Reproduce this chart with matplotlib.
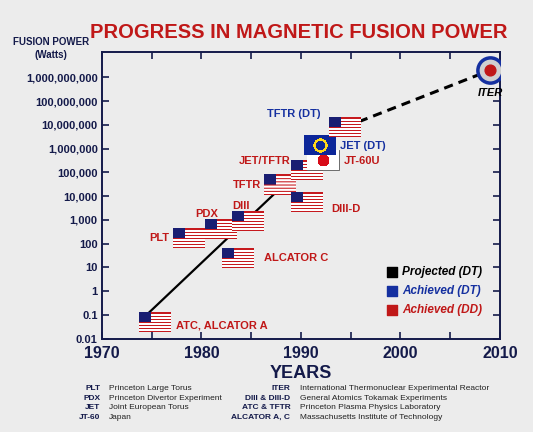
import matplotlib
matplotlib.use("Agg")
import matplotlib.pyplot as plt
import numpy as np
from matplotlib.offsetbox import OffsetImage, AnnotationBbox

plt.rcParams["font.family"] = ["Liberation Sans", "DejaVu Sans"]

# %% Data
dd_names = ["ATC, ALCATOR A", "PLT", "PDX", "DIII", "ALCATOR C", "TFTR", "JET/TFTR", "DIII-D", "JT-60U"]
dd_years = [1975.3, 1978.8, 1982.0, 1984.7, 1983.7, 1987.9, 1990.6, 1990.6, 1992.2]
dd_power = [0.05, 180, 400, 900, 26, 3e4, 1.3e5, 5500, 3.5e5]
dd_flags = ["us", "us", "us", "us", "us", "us", "us", "us", "jp"]

dt_names = ["JET (DT)", "TFTR (DT)"]
dt_years = [1991.9, 1994.4]
dt_power = [1.4e6, 8e6]
dt_flags = ["eu", "us"]

iter_year, iter_power = 2009.0, 2e9
trend_years = [1974.5, 1994.4]
trend_power = [0.1, 8e6]

x_ticks = [1970, 1980, 1990, 2000, 2010]
y_ticks = [0.01, 0.1, 1, 10, 100, 1e3, 1e4, 1e5, 1e6, 1e7, 1e8, 1e9]
y_labels = ["0.01", "0.1", "1", "10", "100", "1,000", "10,000", "100,000",
            "1,000,000", "10,000,000", "100,000,000", "1,000,000,000"]

legend_items = [("Projected (DT)", "black"), ("Achieved (DT)", "#1530a0"), ("Achieved (DD)", "#c01818")]
glossary_left = [("PLT", "Princeton Large Torus"), ("PDX", "Princeton Divertor Experiment"),
                 ("JET", "Joint European Torus"), ("JT-60", "Japan")]
glossary_right = [("ITER", "International Thermonuclear Experimental Reactor"),
                  ("DIII & DIII-D", "General Atomics Tokamak Experiments"),
                  ("ATC & TFTR", "Princeton Plasma Physics Laboratory"),
                  ("ALCATOR A, C", "Massachusetts Institute of Technology")]

RED = "#c01818"
BLUE = "#1530a0"
NAVY = "#141a4a"
BG = "#ececec"


def flag_image(kind, h=20, w=32):
    img = np.ones((h, w, 3))
    if kind == "us":
        for r in range(h):
            if (r * 13 // h) % 2 == 0:
                img[r, :] = (0.78, 0.1, 0.12)
        img[: h * 7 // 13, : w * 2 // 5] = (0.1, 0.12, 0.45)
    elif kind == "eu":
        img[:] = (0.05, 0.15, 0.6)
        yy, xx = np.mgrid[0:h, 0:w]
        ring = np.abs(np.hypot(yy - h / 2, xx - w / 2) - h * 0.3) < 1.2
        img[ring] = (1.0, 0.85, 0.1)
    elif kind == "jp":
        yy, xx = np.mgrid[0:h, 0:w]
        img[np.hypot(yy - h / 2, xx - w / 2) < h * 0.3] = (0.85, 0.05, 0.1)
    return img


def add_flag(ax, x, y, kind):
    ab = AnnotationBbox(OffsetImage(flag_image(kind), zoom=0.72), (x, y),
                        frameon=kind == "jp", pad=0.0, zorder=5,
                        bboxprops=dict(edgecolor="#555555", lw=0.6))
    ax.add_artist(ab)


fig = plt.figure(figsize=(5.33, 4.32), dpi=100, facecolor=BG)
ax = fig.add_axes([0.191, 0.215, 0.747, 0.665], facecolor=BG)

ax.plot(trend_years, trend_power, color="black", lw=1.6, zorder=2)
ax.plot([dt_years[1], iter_year], [dt_power[1], iter_power], color="black", lw=2.2,
        ls=(0, (3, 2)), zorder=2)

for name, x, y, kind in zip(dd_names, dd_years, dd_power, dd_flags):
    add_flag(ax, x, y, kind)
for name, x, y, kind in zip(dt_names, dt_years, dt_power, dt_flags):
    add_flag(ax, x, y, kind)

# ITER emblem
ax.scatter([iter_year], [iter_power], s=330, color="#d0d0d0", edgecolor="#1530a0", lw=2.5, zorder=5)
ax.scatter([iter_year], [iter_power], s=60, color=RED, zorder=6)

lab = dict(fontsize=8, fontweight="bold", zorder=7)
ax.text(1977.5, 0.035, "ATC, ALCATOR A", color=RED, va="center", **lab)
ax.text(1976.8, 180, "PLT", color=RED, ha="right", va="center", **lab)
ax.text(1980.5, 1800, "PDX", color=RED, ha="center", va="center", **lab)
ax.text(1984.0, 4000, "DIII", color=RED, ha="center", va="center", **lab)
ax.text(1986.3, 26, "ALCATOR C", color=RED, va="center", **lab)
ax.text(1986.0, 3e4, "TFTR", color=RED, ha="right", va="center", **lab)
ax.text(1989.0, 3e5, "JET/TFTR", color=RED, ha="right", va="center", **lab)
ax.text(1993.1, 3000, "DIII-D", color=RED, va="center", **lab)
ax.text(1994.3, 3e5, "JT-60U", color=RED, va="center", **lab)
ax.text(1993.9, 1.3e6, "JET (DT)", color=BLUE, va="center", **lab)
ax.text(1992.0, 2.8e7, "TFTR (DT)", color=BLUE, ha="right", va="center", **lab)
ax.text(iter_year, 2.3e8, "ITER", color="black", ha="center", va="center",
        fontstyle="italic", **lab)

ax.set_yscale("log")
ax.set_xlim(1970, 2010)
ax.set_ylim(0.0095, 1.2e10)
ax.set_xticks(x_ticks, [str(t) for t in x_ticks])
ax.set_xticks(np.arange(1975, 2010, 5), minor=True)
ax.set_yticks(y_ticks, y_labels)
ax.yaxis.set_minor_locator(matplotlib.ticker.NullLocator())
ax.tick_params(axis="both", which="both", direction="in", top=True, right=True,
               length=5, width=1.2, color=NAVY)
ax.tick_params(axis="x", labelsize=11.5, pad=5)
ax.tick_params(axis="y", labelsize=8, pad=3)
for t in ax.get_xticklabels() + ax.get_yticklabels():
    t.set_fontweight("bold")
    t.set_color(NAVY)
for s in ax.spines.values():
    s.set_color(NAVY)
    s.set_linewidth(1.4)

# legend
for i, (txt, col) in enumerate(legend_items):
    yy = 0.235 - i * 0.067
    ax.scatter([0.73], [yy], marker="s", s=50, color=col, transform=ax.transAxes, zorder=8)
    ax.text(0.755, yy, txt, transform=ax.transAxes, color=col, fontsize=8.5,
            fontweight="bold", fontstyle="italic", va="center", zorder=8)

fig.text(0.56, 0.925, "PROGRESS IN MAGNETIC FUSION POWER", color=RED, fontsize=14.5,
         fontweight="bold", ha="center", va="center")
fig.text(0.095, 0.895, "FUSION POWER", color=NAVY, fontsize=7, fontweight="bold", ha="center")
fig.text(0.095, 0.865, "(Watts)", color=NAVY, fontsize=7, fontweight="bold", ha="center")
fig.text(0.565, 0.125, "YEARS", color=NAVY, fontsize=13, fontweight="bold", ha="center")

for i, (a, b) in enumerate(glossary_left):
    y = 0.1 - i * 0.022
    fig.text(0.188, y, a, fontsize=6, fontweight="bold", color=NAVY, ha="right", va="center")
    fig.text(0.205, y, b, fontsize=6, color="#222222", va="center")
for i, (a, b) in enumerate(glossary_right):
    y = 0.1 - i * 0.022
    fig.text(0.545, y, a, fontsize=6, fontweight="bold", color=NAVY, ha="right", va="center")
    fig.text(0.563, y, b, fontsize=6, color="#222222", va="center")

fig.savefig("out.png", dpi=100, facecolor=BG)
